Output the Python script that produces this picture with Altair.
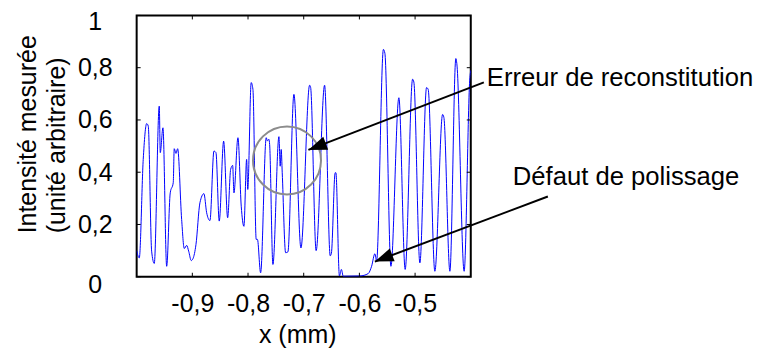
import altair as alt
import pandas as pd

# ---- data ----
x_mm = [-1.000, -0.9953, -0.9882, -0.9820, -0.9792, -0.9731, -0.9684, -0.9594, -0.9576, -0.9528,
        -0.9461, -0.9397, -0.9343, -0.9325, -0.9294, -0.9264, -0.9192, -0.9145, -0.9102, -0.9066,
        -0.9020, -0.8989, -0.8935, -0.8864, -0.8792, -0.8743, -0.8684, -0.8612, -0.8576, -0.8517,
        -0.8438, -0.8366, -0.8312, -0.8276, -0.8253, -0.8181, -0.8122, -0.8074, -0.8025, -0.8005,
        -0.7943, -0.7912, -0.7853, -0.7831, -0.7774, -0.7673, -0.7652, -0.7625, -0.7612, -0.7553,
        -0.7445, -0.7422, -0.7404, -0.7386, -0.7325, -0.7284, -0.7176, -0.7050, -0.6894, -0.6876,
        -0.6777, -0.6625, -0.6524, -0.6503, -0.6435, -0.6422, -0.6359, -0.6323, -0.6291, -0.5991,
        -0.5842, -0.5781, -0.5722, -0.5691, -0.5569, -0.5542, -0.5434, -0.5291, -0.5178, -0.5045,
        -0.5022, -0.4914, -0.4794, -0.4765, -0.4645, -0.4506, -0.4483, -0.4375, -0.4268, -0.4250,
        -0.4119, -0.4016, -0.4000]
intensity = [0.100, 0.072, 0.449, 0.586, 0.577, 0.098, 0.051, 0.653, 0.475, 0.570,
             0.040, 0.321, 0.360, 0.490, 0.472, 0.490, 0.219, 0.108, 0.120, 0.098,
             0.062, 0.069, 0.123, 0.283, 0.318, 0.245, 0.215, 0.481, 0.475, 0.213,
             0.519, 0.226, 0.411, 0.426, 0.321, 0.532, 0.270, 0.193, 0.449, 0.334,
             0.743, 0.717, 0.143, 0.143, 0.015, 0.532, 0.520, 0.526, 0.506, 0.047,
             0.536, 0.423, 0.487, 0.400, 0.092, 0.095, 0.698, 0.110, 0.733, 0.725,
             0.100, 0.733, 0.080, 0.090, 0.398, 0.398, 0.003, 0.028, 0.002, 0.003,
             0.012, 0.040, 0.088, 0.060, 0.870, 0.855, 0.040, 0.685, 0.028, 0.756,
             0.745, 0.053, 0.724, 0.717, 0.021, 0.621, 0.610, 0.021, 0.835, 0.815,
             0.021, 0.762, 0.790]

x_ticks = [-0.9, -0.8, -0.7, -0.6, -0.5]
y_ticks = [0, 0.2, 0.4, 0.6, 0.8, 1]

circle_x = [-0.730]
circle_y = [0.445]

arrow_labels = ["Erreur de reconstitution", "Défaut de polissage"]
arrow_start_x = [-0.3765, -0.2616]
arrow_start_y = [0.744, 0.307]
arrow_tip_x = [-0.6916, -0.5722]
arrow_tip_y = [0.4854, 0.058]
label_x = [-0.3711, -0.3244]
label_y = [0.759, 0.380]

# ---- chart ----
W, H = 335, 262
FONT = "Liberation Sans"
FS = 25

xs = alt.Scale(domain=[-1, -0.4], nice=False, zero=False)
ys = alt.Scale(domain=[0, 1], nice=False, zero=False)

df = pd.DataFrame({"x": x_mm, "y": intensity})

x_axis = alt.Axis(
    values=x_ticks, ticks=False, tickSize=0, domain=False, grid=False,
    labelFont=FONT, labelFontSize=FS, labelColor="black",
    labelExpr="replace(replace(format(datum.value, '.1f'), '\u2212', '-'), '.', ',')",
    labelPadding=27, labelBaseline="middle", labelFlush=False, labelOverlap=False,
    title="x (mm)", titleFont=FONT, titleFontSize=FS, titleFontWeight="normal", titleColor="black",
    titleX=161, titleY=58, titleAlign="center", titleBaseline="middle",
)
y_axis = alt.Axis(
    values=y_ticks, ticks=False, tickSize=0, domain=False, grid=False,
    labelFont=FONT, labelFontSize=FS, labelColor="black",
    labelExpr="replace(format(datum.value, '~g'), '.', ',')",
    labelAlign="center", labelPadding=42, labelFlush=False, labelOverlap=False,
    labelOffset={"condition": [{"test": "datum.value == 0", "value": 8},
                               {"test": "datum.value == 1", "value": 6}],
                 "value": 0},
    title=["Intensité mesurée", "(unité arbitraire)"], titleFont=FONT, titleFontSize=FS,
    titleFontWeight="normal", titleColor="black", titleAngle=270, titleLineHeight=29,
    titleX=-109.5, titleY=218, titleAlign="left", titleBaseline="middle",
)

line = alt.Chart(df).mark_line(color="#0000ff", strokeWidth=1, interpolate="monotone", clip=True).encode(
    x=alt.X("x:Q", scale=xs, axis=x_axis),
    y=alt.Y("y:Q", scale=ys, axis=y_axis),
)

xt = pd.DataFrame({"x": x_ticks})
yt = pd.DataFrame({"y": y_ticks})
tick_bottom = alt.Chart(xt).mark_rule(color="black", strokeWidth=1).encode(
    x=alt.X("x:Q", scale=xs), y=alt.value(H), y2=alt.value(H - 4))
tick_top = alt.Chart(xt).mark_rule(color="black", strokeWidth=1).encode(
    x=alt.X("x:Q", scale=xs), y=alt.value(0), y2=alt.value(4))
tick_left = alt.Chart(yt).mark_rule(color="black", strokeWidth=1).encode(
    y=alt.Y("y:Q", scale=ys), x=alt.value(0), x2=alt.value(4))
tick_right = alt.Chart(yt).mark_rule(color="black", strokeWidth=1).encode(
    y=alt.Y("y:Q", scale=ys), x=alt.value(W), x2=alt.value(W - 4))

circ = alt.Chart(pd.DataFrame({"x": circle_x, "y": circle_y})).mark_point(
    shape="circle", size=4650, filled=False, stroke="#8c8c8c", strokeWidth=2, opacity=1
).encode(x=alt.X("x:Q", scale=xs), y=alt.Y("y:Q", scale=ys))

adf = pd.DataFrame({"x": arrow_start_x, "y": arrow_start_y, "x2": arrow_tip_x, "y2": arrow_tip_y})
arrow_lines = alt.Chart(adf).mark_rule(color="black", strokeWidth=2, clip=False).encode(
    x=alt.X("x:Q", scale=xs), y=alt.Y("y:Q", scale=ys), x2="x2:Q", y2="y2:Q")

hdf = pd.DataFrame({"x": arrow_tip_x, "y": arrow_tip_y})
heads = alt.Chart(hdf).mark_point(
    shape="M0,0 L-1,-0.37 L-1,0.37 Z", size=1384, filled=True, color="black",
    opacity=1, angle=159, strokeWidth=0, clip=False
).encode(x=alt.X("x:Q", scale=xs), y=alt.Y("y:Q", scale=ys))

tdf = pd.DataFrame({"x": label_x, "y": label_y, "label": arrow_labels})
texts = alt.Chart(tdf).mark_text(
    align="left", baseline="middle", font=FONT, fontSize=25.7, color="black", clip=False
).encode(x=alt.X("x:Q", scale=xs), y=alt.Y("y:Q", scale=ys), text="label:N")

chart = alt.layer(
    line, tick_bottom, tick_top, tick_left, tick_right, circ, arrow_lines, heads, texts
).properties(
    width=W, height=H,
    autosize=alt.AutoSizeParams(type="none"),
    padding={"left": 129, "top": 7, "right": 290, "bottom": 76},
).configure_view(stroke="black", strokeWidth=2)

chart.save("out.html", embed_options={"renderer": "svg", "actions": False})
